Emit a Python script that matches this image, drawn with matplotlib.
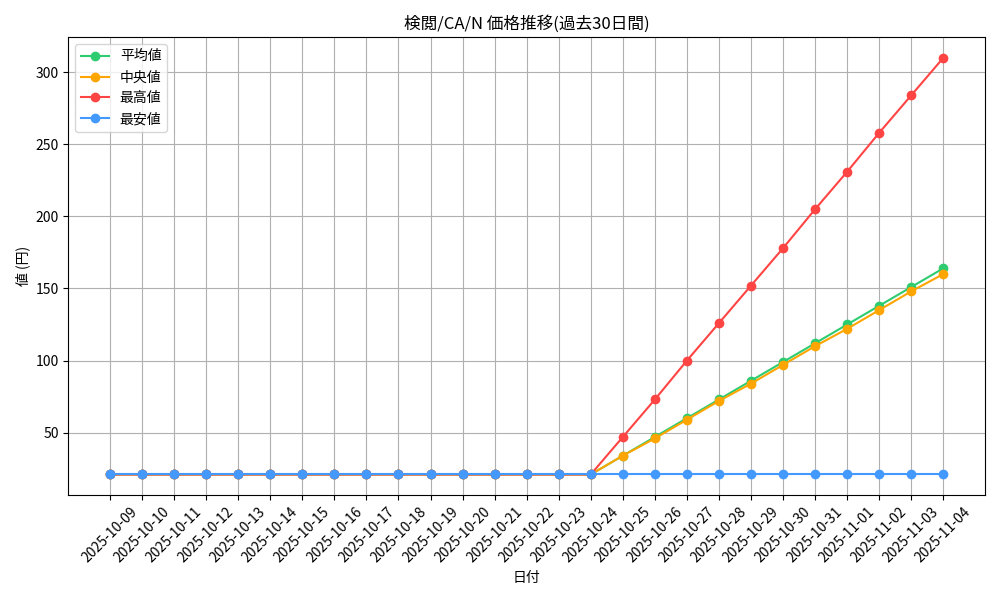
import pandas as pd
import matplotlib
matplotlib.use("Agg")
import matplotlib.pyplot as plt

plt.rcParams["font.family"] = ["Noto Sans CJK JP", "DejaVu Sans"]

dates = [d.strftime("%Y-%m-%d") for d in pd.date_range("2025-10-09", "2025-11-04")]
flat = [21] * 16
mean_vals = flat + [34, 47, 60, 73, 86, 99, 112, 125, 138, 151, 164]
median_vals = flat + [34, 46, 59, 72, 84, 97, 110, 122, 135, 148, 160]
max_vals = flat + [47, 73, 100, 126, 152, 178, 205, 231, 258, 284, 310]
min_vals = [21] * 27


def main():
    fig, ax = plt.subplots(figsize=(10, 6), dpi=100)

    ax.plot(dates, mean_vals, marker="o", color="#2ecc71", label="平均値")
    ax.plot(dates, median_vals, marker="o", color="#ffa500", label="中央値")
    ax.plot(dates, max_vals, marker="o", color="#ff4444", label="最高値")
    ax.plot(dates, min_vals, marker="o", color="#4499ff", label="最安値")

    ax.set_title("検閲/CA/N 価格推移(過去30日間)")
    ax.set_xlabel("日付")
    ax.set_ylabel("値 (円)")
    ax.grid(True, color="#b0b0b0")
    ax.legend(loc="upper left")

    plt.xticks(rotation=45)
    plt.tight_layout()
    fig.savefig("out.png")


if __name__ == "__main__":
    main()
